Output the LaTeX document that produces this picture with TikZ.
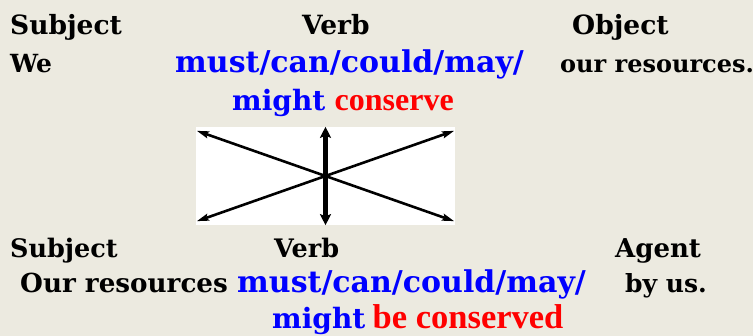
\documentclass[tikz,border=0pt]{standalone}
\usepackage{fontspec}
\setmainfont{DejaVu Serif}
\newfontfamily\redface{Liberation Serif}
\usepackage{xcolor}
\usepackage{tikz}
\usetikzlibrary{arrows.meta, positioning}
\definecolor{paper}{RGB}{236,234,224}
\definecolor{modalblue}{RGB}{0,0,255}
\definecolor{verbred}{RGB}{255,0,0}
\newcommand{\fsz}[1]{\fontsize{#1}{#1}\selectfont}
\tikzset{
    head/.style={anchor=base west, inner sep=0pt, font=\bfseries\fsz{26.5}},
    word/.style={anchor=base west, inner sep=0pt, font=\bfseries\fsz{25}},
    modal/.style={word, font=\bfseries\fsz{30}, text=modalblue},
    change/.style={anchor=base west, inner sep=0pt, font=\redface\bfseries\fsz{32}, text=verbred},
    crossbox/.style={rectangle, fill=white, minimum width=259pt, minimum height=98pt, inner sep=0pt},
    arrow/.style={line width=2.6pt, {Stealth[length=12pt,width=7pt,inset=2pt]}-{Stealth[length=12pt,width=7pt,inset=2pt]}},
    bigarrow/.style={line width=4.5pt, {Stealth[length=11pt,width=11pt,inset=2pt]}-{Stealth[length=11pt,width=11pt,inset=2pt]}}
}

\begin{document}
\begin{tikzpicture}[x=1pt, y=-1pt]
    \fill [paper] (0,0) rectangle (753,336);
    \useasboundingbox (0,0) rectangle (753,336);

    % active sentence
    \node (subjA) [head] at (10,35) {Subject};
    \node (verbA) [head] at (302,35) {Verb};
    \node (obj) [head] at (572,35) {Object};
    \node (we) [word] at (10,73) {We};
    \node (modalA) [modal] at (175,73) {must/can/could/may/};
    \node (res) [word, font=\bfseries\fsz{24}] at (560,73) {our resources.};
    \node (mightA) [modal, font=\bfseries\fsz{28}] at (232,111) {might};
    \node (conserve) [change, right=9pt of mightA.base east, anchor=base west] {conserve};

    % the cross of arrows
    \node (box) [crossbox] at (325.5,176) {};
    \draw [arrow] ([shift={(1,4)}]box.north west) -- ([shift={(-1,-4)}]box.south east);
    \draw [arrow] ([shift={(1,-4)}]box.south west) -- ([shift={(-1,4)}]box.north east);
    \draw [bigarrow] (box.north) -- (box.south);

    % passive sentence
    \node (subjB) [head, font=\bfseries\fsz{25.5}] at (10,258) {Subject};
    \node (verbB) [head, font=\bfseries\fsz{25.5}] at (274,258) {Verb};
    \node (agent) [head, font=\bfseries\fsz{26}] at (615,258) {Agent};
    \node (ourres) [word, font=\bfseries\fsz{26.2}] at (20,293) {Our resources};
    \node (modalB) [modal] at (237,293) {must/can/could/may/};
    \node (byus) [word] at (625,293) {by us.};
    \node (mightB) [modal, font=\bfseries\fsz{28}] at (272,329) {might};
    \node (conserved) [change, font=\redface\bfseries\fsz{34.5}, right=7pt of mightB.base east, anchor=base west] {be conserved};
\end{tikzpicture}
\end{document}
